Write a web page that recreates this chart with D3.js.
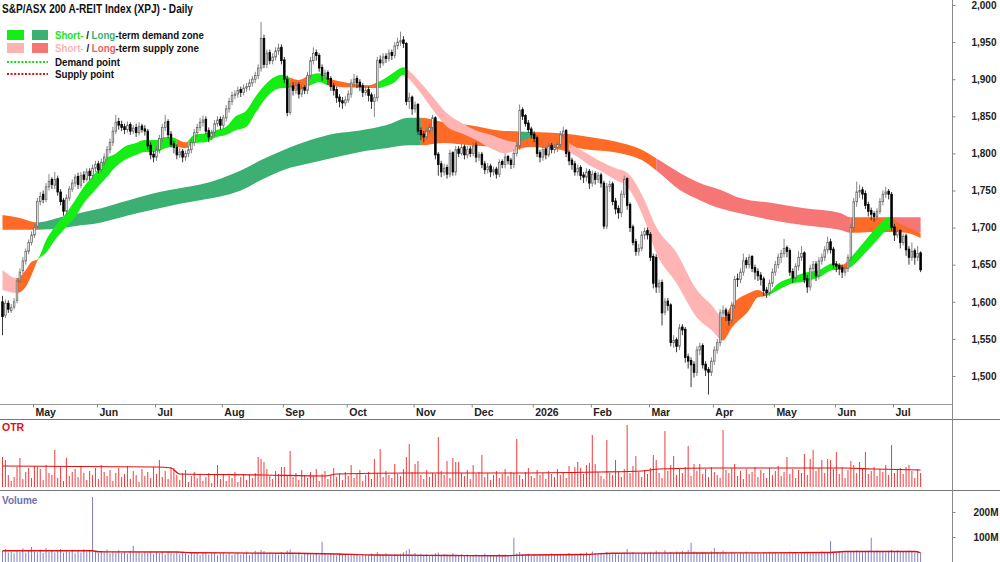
<!DOCTYPE html>
<html><head><meta charset="utf-8">
<script src="https://cdn.jsdelivr.net/npm/d3@7"></script>
<style>
body{margin:0;background:#fff}
svg{display:block}
text{font-family:"Liberation Sans",Arial,sans-serif}
</style></head>
<body><svg id="c" width="1000" height="562"></svg>
<script>
// ---------- DATA ----------
const monthLabels = ["May","Jun","Jul","Aug","Sep","Oct","Nov","Dec","2026","Feb","Mar","Apr","May","Jun","Jul"];
const monthStartIdx = [11,33,53,76,97,119,142,162,183,203,223,245,266,287,307];
const priceTicks = [1500,1550,1600,1650,1700,1750,1800,1850,1900,1950,2000];
const volTicks = [100,200];

const close = [
1580,1598,1590,1592,1600,1628,1640,1655,1668,1680,
1690,1700,1735,1742,1738,1755,1762,1758,1765,1748,
1735,1722,1740,1752,1760,1768,1758,1770,1765,1775,
1770,1780,1785,1778,1788,1795,1805,1815,1830,1842,
1838,1835,1832,1838,1830,1834,1828,1836,1832,1830,
1810,1798,1795,1805,1820,1835,1842,1825,1812,1808,
1798,1802,1795,1800,1805,1815,1828,1835,1842,1845,
1830,1822,1828,1840,1845,1838,1848,1860,1870,1878,
1880,1885,1882,1888,1890,1895,1900,1905,1915,1955,
1920,1935,1925,1930,1938,1942,1925,1900,1855,1890,
1885,1892,1880,1888,1885,1905,1925,1935,1932,1915,
1905,1908,1900,1890,1885,1875,1870,1868,1872,1880,
1895,1900,1895,1890,1882,1885,1878,1870,1875,1925,
1922,1930,1928,1935,1932,1945,1950,1952,1948,1870,
1875,1860,1865,1830,1825,1822,1830,1835,1848,1798,
1785,1775,1780,1772,1800,1775,1805,1800,1808,1798,
1805,1800,1810,1795,1798,1785,1778,1782,1775,1778,
1772,1788,1785,1795,1790,1785,1800,1810,1858,1850,
1840,1832,1825,1820,1800,1795,1805,1798,1810,1805,
1808,1812,1825,1830,1800,1790,1785,1775,1780,1770,
1768,1775,1760,1772,1765,1770,1760,1702,1755,1758,
1735,1725,1720,1745,1765,1730,1700,1680,1668,1672,
1690,1695,1690,1660,1625,1620,1625,1585,1600,1595,
1545,1548,1540,1565,1562,1525,1520,1515,1505,1535,
1540,1515,1508,1505,1520,1535,1545,1585,1588,1582,
1575,1595,1630,1630,1640,1655,1650,1660,1645,1640,
1635,1630,1615,1612,1625,1640,1650,1660,1665,1672,
1668,1640,1632,1648,1660,1665,1630,1620,1645,1650,
1635,1655,1660,1670,1680,1670,1650,1648,1645,1640,
1645,1660,1700,1735,1748,1750,1745,1730,1722,1718,
1715,1722,1735,1745,1748,1745,1700,1690,1695,1680,
1688,1670,1660,1668,1660,1665,1643];

const open = [
1600,1582,1598,1588,1593,1602,1628,1642,1655,1668,
1680,1690,1702,1735,1745,1738,1755,1765,1757,1766,
1748,1737,1722,1740,1752,1760,1769,1757,1771,1765,
1776,1770,1780,1786,1778,1788,1795,1805,1815,1830,
1843,1839,1836,1832,1839,1830,1835,1828,1837,1833,
1830,1811,1799,1795,1805,1820,1835,1843,1826,1813,
1808,1798,1803,1795,1800,1805,1815,1828,1835,1842,
1846,1831,1822,1828,1840,1846,1838,1848,1860,1870,
1878,1880,1886,1882,1888,1890,1895,1900,1905,1915,
1955,1920,1936,1925,1930,1938,1943,1926,1900,1855,
1891,1885,1893,1880,1889,1885,1905,1925,1936,1932,
1916,1905,1909,1901,1891,1886,1876,1871,1868,1872,
1880,1895,1901,1896,1891,1882,1886,1879,1870,1875,
1926,1922,1931,1928,1936,1932,1945,1950,1953,1948,
1870,1876,1860,1866,1831,1826,1822,1830,1835,1848,
1799,1786,1775,1781,1772,1801,1775,1806,1800,1809,
1798,1806,1800,1811,1795,1799,1786,1778,1783,1775,
1779,1772,1789,1785,1796,1791,1785,1800,1810,1859,
1851,1841,1833,1826,1821,1801,1795,1806,1798,1811,
1805,1808,1812,1825,1831,1801,1791,1786,1775,1781,
1771,1768,1776,1760,1773,1765,1771,1760,1702,1755,
1759,1736,1726,1720,1745,1766,1731,1701,1681,1668,
1672,1690,1696,1691,1661,1660,1620,1626,1586,1601,
1596,1545,1549,1540,1566,1563,1526,1521,1516,1505,
1535,1541,1516,1509,1505,1520,1535,1545,1585,1589,
1583,1575,1595,1631,1630,1640,1656,1650,1661,1646,
1641,1636,1631,1616,1612,1625,1640,1650,1660,1665,
1673,1669,1641,1632,1648,1660,1666,1631,1620,1645,
1651,1635,1655,1660,1670,1681,1671,1651,1649,1646,
1640,1645,1660,1700,1735,1748,1751,1746,1731,1723,
1719,1715,1722,1735,1745,1749,1745,1701,1690,1696,
1680,1689,1671,1660,1669,1660,1666];

const high = [
1608,1603,1602,1597,1605,1632,1645,1660,1672,1684,
1695,1705,1740,1748,1750,1760,1772,1768,1775,1770,
1752,1740,1745,1756,1765,1772,1774,1775,1776,1780,
1780,1785,1790,1790,1793,1800,1810,1820,1836,1852,
1848,1844,1840,1843,1842,1838,1840,1842,1840,1838,
1833,1815,1803,1810,1825,1840,1852,1846,1830,1817,
1812,1807,1806,1804,1810,1820,1833,1840,1848,1851,
1850,1835,1832,1845,1850,1850,1852,1865,1875,1883,
1885,1890,1890,1893,1895,1900,1904,1910,1920,1977,
1960,1940,1940,1935,1943,1948,1947,1930,1905,1895,
1896,1897,1896,1893,1892,1910,1930,1943,1940,1935,
1920,1913,1912,1904,1895,1890,1880,1876,1877,1885,
1900,1907,1905,1900,1895,1890,1890,1882,1880,1930,
1932,1935,1935,1940,1940,1950,1956,1964,1958,1950,
1882,1878,1870,1868,1835,1830,1835,1840,1852,1850,
1802,1790,1786,1785,1805,1803,1810,1810,1813,1812,
1810,1810,1815,1815,1802,1802,1790,1787,1786,1782,
1782,1792,1792,1800,1798,1794,1805,1815,1866,1862,
1853,1845,1836,1830,1824,1805,1810,1808,1815,1814,
1812,1816,1830,1836,1833,1804,1794,1790,1785,1784,
1775,1780,1779,1777,1776,1775,1774,1763,1760,1763,
1762,1740,1730,1750,1770,1768,1734,1704,1685,1678,
1695,1700,1700,1694,1665,1664,1630,1630,1605,1605,
1598,1555,1552,1570,1570,1566,1530,1525,1520,1540,
1545,1544,1520,1512,1525,1540,1550,1590,1595,1592,
1586,1600,1635,1638,1645,1665,1660,1664,1663,1650,
1645,1640,1634,1620,1630,1645,1655,1665,1670,1685,
1676,1672,1645,1652,1668,1675,1668,1636,1650,1655,
1655,1660,1665,1675,1688,1685,1674,1655,1652,1650,
1648,1664,1705,1740,1762,1758,1755,1750,1735,1727,
1722,1726,1740,1750,1755,1752,1748,1705,1700,1698,
1692,1692,1675,1680,1672,1675,1668];

const low = [
1555,1578,1585,1585,1590,1598,1625,1638,1650,1664,
1676,1686,1698,1730,1733,1734,1750,1752,1752,1743,
1730,1716,1718,1736,1748,1755,1752,1753,1760,1762,
1764,1766,1775,1773,1774,1783,1790,1800,1810,1826,
1832,1830,1826,1828,1825,1826,1822,1824,1828,1824,
1805,1792,1788,1790,1800,1815,1830,1820,1808,1800,
1792,1794,1788,1790,1795,1800,1810,1822,1830,1836,
1826,1815,1818,1823,1836,1832,1833,1843,1855,1865,
1873,1875,1876,1878,1883,1885,1890,1895,1900,1910,
1915,1915,1920,1920,1925,1933,1920,1895,1850,1852,
1878,1880,1874,1876,1880,1880,1900,1920,1925,1910,
1898,1900,1892,1884,1878,1868,1862,1860,1864,1868,
1875,1890,1888,1884,1876,1878,1870,1860,1849,1870,
1915,1918,1922,1924,1926,1928,1940,1945,1942,1865,
1860,1852,1855,1825,1818,1815,1818,1826,1830,1792,
1770,1768,1770,1766,1768,1770,1770,1795,1797,1792,
1793,1795,1796,1788,1790,1780,1772,1773,1768,1770,
1766,1768,1780,1780,1785,1779,1780,1796,1805,1845,
1836,1828,1820,1815,1795,1788,1790,1792,1795,1800,
1800,1802,1808,1820,1795,1784,1778,1770,1770,1764,
1760,1762,1752,1755,1758,1760,1754,1698,1698,1748,
1730,1718,1712,1714,1740,1724,1694,1676,1662,1662,
1668,1684,1684,1655,1618,1612,1612,1568,1582,1588,
1540,1538,1532,1535,1555,1518,1510,1485,1498,1500,
1528,1510,1500,1475,1500,1515,1530,1540,1578,1574,
1568,1570,1590,1620,1625,1635,1645,1645,1640,1630,
1628,1622,1608,1605,1608,1620,1635,1645,1652,1660,
1660,1635,1625,1628,1642,1655,1625,1612,1615,1640,
1628,1630,1650,1655,1665,1665,1645,1640,1636,1632,
1635,1640,1655,1695,1728,1740,1738,1725,1715,1710,
1708,1710,1718,1730,1740,1738,1695,1682,1686,1672,
1676,1662,1650,1655,1650,1655,1640];

const otr = [
30,27,12,6,10,20,29,8,15,19, 9,21,20,18,7,22,14,12,37,9,
20,6,29,11,15,18,10,21,14,7, 16,12,19,8,22,15,11,17,6,14,
19,10,13,21,8,16,12,5,18,11, 15,9,20,13,27,10,16,8,20,19,
12,7,14,17,5,11,15,9,13,6, 10,14,4,12,22,8,13,6,11,9,
15,5,10,13,7,12,9,14,30,28, 25,18,11,8,16,13,20,20,12,36,
10,14,7,17,12,9,15,11,18,6, 13,16,8,12,19,10,14,7,15,11,
22,9,13,17,6,12,15,8,28,14, 38,10,16,12,9,23,13,11,18,30,
43,15,23,26,12,8,17,10,14,13, 50,16,12,26,9,29,25,25,14,11,
17,8,22,13,15,32,10,14,7,12, 16,9,13,18,11,15,14,48,12,8,
15,19,11,9,17,12,14,8,16,13, 10,18,12,15,9,21,14,20,25,19,
13,22,24,52,23,15,11,8,47,14, 12,27,16,10,18,62,14,21,31,15,
10,17,13,19,32,27,14,9,56,16, 22,31,12,18,14,20,41,11,23,16,
23,13,18,10,20,15,12,9,57,17, 14,19,23,11,16,8,18,13,15,20,
10,17,14,9,19,12,16,21,11,15, 30,13,18,9,17,14,33,12,28,37,
16,19,27,14,28,27,18,35,13,20, 9,17,26,22,14,25,19,35,13,16,
20,11,18,15,22,12,42,14,17,19, 13,20,22,16,9,18,14];
const otrAvgIdx = [0,53,58,61,90,111,115,140,175,205,220,226,245,290,300,316];
const otrAvg    = [21,20,19,13,12,11,13,14,14,15,16,18,19,19,18,17];

const volume = [
45,52,38,41,35,48,40,55,37,44, 60,42,39,50,36,56,41,47,38,43,
52,37,45,40,49,35,44,38,51,42, 46,260,40,36,44,39,50,35,42,38,
47,36,41,33,45,64,38,42,35,40, 37,44,32,39,35,41,30,43,36,34,
38,31,42,35,29,40,33,37,28,36, 41,30,35,39,27,34,38,31,36,29,
33,37,30,35,42,28,36,45,39,48, 44,35,38,31,36,29,40,34,46,50,
35,30,38,27,33,36,31,29,35,28, 81,32,28,34,30,26,35,29,31,27,
33,28,30,25,32,29,27,34,26,40, 31,28,35,30,26,32,29,33,38,45,
52,30,36,28,33,27,31,26,29,35, 38,28,32,30,25,34,29,27,31,26,
30,27,24,31,28,26,33,25,29,27, 28,32,26,30,27,29,97,35,40,31,
28,33,26,30,25,29,27,32,28,34, 30,27,33,29,31,36,28,32,30,35,
33,38,30,42,35,31,37,29,40,33, 31,36,30,34,38,52,35,40,33,37,
32,39,35,41,36,45,38,33,47,36, 40,35,42,37,44,38,48,77,42,39,
36,41,38,35,43,56,40,37,46,38, 35,41,37,33,39,36,42,34,38,40,
37,33,39,35,41,36,38,34,40,37, 35,42,38,36,33,39,37,41,35,38,
40,36,42,38,39,84,41,37,43,39, 38,44,40,42,46,41,39,43,45,97,
42,46,40,44,38,45,48,41,47,43, 44,40,46,42,38,44,36];
const volAvgIdx = [0,31,33,60,65,100,115,127,155,172,180,200,210,240,285,290,314,316];
const volAvg    = [45,45,41,40,37,35,32,28,26,25,28,30,35,36,38,42,42,37];

// short-term zone edges (sampled by candle index)
const stIdx = [0,5,8,10,12,15,18,22,25,28, 32,35,39,42,46,49,53,56,59,63,
  66,70,73,77,80,84,87,91,96,99, 102,106,109,112,119,126,129,132,135,138,
  140,144,149,153,158,163,168,173,177,182, 187,192,198,202,207,211,215,221,225,232,
  239,244,248,251,257,260,263,267,272,276, 281,286,289,292,297,301,305,307,311,316];
const stHi = [1643,1632,1643,1654,1657,1683,1701,1720,1737,1755, 1774,1791,1800,1809,1814,1818,1818,1822,1821,1815,
  1825,1827,1831,1836,1849,1858,1876,1895,1906,1902, 1899,1906,1908,1902,1895,1892,1896,1902,1910,1916,
  1911,1895,1872,1854,1841,1831,1825,1818,1815,1821, 1818,1818,1807,1798,1787,1780,1774,1737,1701,1666,
  1616,1596,1579,1596,1612,1616,1611,1625,1633,1639, 1643,1652,1650,1660,1683,1701,1714,1710,1701,1693];
const stLo = [1616,1612,1620,1636,1655,1666,1683,1701,1714,1733, 1751,1764,1782,1791,1798,1802,1802,1807,1809,1807,
  1814,1815,1821,1825,1831,1836,1854,1876,1888,1888, 1885,1892,1896,1892,1889,1888,1888,1891,1896,1906,
  1900,1881,1854,1836,1827,1818,1807,1800,1805,1809, 1807,1805,1795,1784,1774,1764,1755,1710,1666,1625,
  1579,1562,1548,1565,1589,1606,1608,1616,1625,1627, 1633,1643,1643,1647,1666,1683,1697,1694,1693,1686];
// long-term zone edges
const ltIdx = [0,6,12,20,27,34,40,47,54,61, 68,75,82,89,97,106,115,123,132,140,
  144,152,161,171,182,192,202,213,220,226, 233,240,247,253,265,276,288,292,302,316];
const ltHi = [1717,1713,1707,1714,1720,1726,1733,1741,1748,1753, 1758,1766,1777,1791,1805,1818,1827,1831,1838,1848,
  1848,1842,1838,1831,1829,1827,1822,1814,1805,1791, 1774,1760,1751,1741,1733,1726,1720,1714,1714,1714];
const ltLo = [1697,1697,1697,1699,1703,1707,1713,1720,1726,1732, 1737,1742,1750,1764,1778,1787,1795,1802,1807,1811,
  1811,1814,1811,1809,1809,1809,1805,1800,1791,1774, 1751,1737,1726,1720,1710,1703,1697,1693,1694,1694];
// zone state segments: [fromIdx, toIdx, state]
const stZones = [[0,5,"ss"],[5,12,"or"],[12,60,"sd"],[60,64,"or"],[64,99,"sd"],[99,105,"or"],[105,112,"sd"],
  [112,129,"or"],[129,139,"sd"],[139,177,"ss"],[177,195,"or"],[195,247,"ss"],[247,263,"or"],[263,288,"sd"],
  [288,291,"or"],[291,306,"sd"],[306,316,"or"]];
const ltZones = [[0,12,"or"],[12,144,"ld"],[144,178,"or"],[178,183,"ld"],[183,225,"or"],[225,292,"ls"],
  [292,306,"or"],[306,316,"ls"]];

// ---------- DRAW ----------
const zoneColor = {sd:"#14EE14", ld:"#3CAF72", ss:"#FFB4B4", ls:"#F67676", or:"#FF6A26"};
const svg = d3.select("#c");
const defs = svg.append("defs");
const x = d3.scaleLinear().domain([10.5, 306.5]).range([33, 893]);
const y = d3.scaleLinear().domain([1500, 2000]).range([376, 5]);
const yOtr = d3.scaleLinear().domain([0, 70]).range([487, 417]);
const yVol = d3.scaleLinear().domain([0, 200]).range([562, 512]);
const N = close.length;
const idx = d3.range(N);

defs.append("clipPath").attr("id","mainClip").append("rect").attr("x",0).attr("y",0).attr("width",952).attr("height",404);
const main = svg.append("g").attr("clip-path","url(#mainClip)");

function drawBand(ix, hi, lo, zones, tag){
  const pts = ix.map((d,k)=>({i:d, hi:hi[k], lo:lo[k]}));
  const area = d3.area().x(d=>x(d.i)).y0(d=>y(d.lo)).y1(d=>y(d.hi)).curve(d3.curveMonotoneX);
  const dstr = area(pts);
  zones.forEach(([a,b,s],n)=>{
    const id = tag+"z"+n;
    const x0 = a===0 ? 0 : x(a), x1 = b===N-1 ? x(N) : x(b);
    defs.append("clipPath").attr("id",id).append("rect")
      .attr("x",x0).attr("y",0).attr("width",x1-x0).attr("height",404);
    main.append("path").attr("d",dstr).attr("fill",zoneColor[s]).attr("clip-path",`url(#${id})`);
  });
}
drawBand(ltIdx, ltHi, ltLo, ltZones, "lt");
drawBand(stIdx, stHi, stLo, stZones, "st");

// candles
const bw = 1.6;
main.append("g").selectAll("line").data(idx).join("line")
  .attr("x1",i=>x(i)).attr("x2",i=>x(i))
  .attr("y1",i=>y(high[i])).attr("y2",i=>y(low[i]))
  .attr("stroke",i=>close[i]>=open[i]?"#777":"#222").attr("stroke-width",0.9);
main.append("g").selectAll("rect").data(idx).join("rect")
  .attr("x",i=>x(i)-bw/2).attr("width",bw)
  .attr("y",i=>y(Math.max(open[i],close[i])))
  .attr("height",i=>Math.max(0.6,Math.abs(y(open[i])-y(close[i]))))
  .attr("fill",i=>close[i]>=open[i]?"#fff":"#000")
  .attr("stroke",i=>close[i]>=open[i]?"#666":"#000").attr("stroke-width",0.8);

// frame lines
const grid = "#9a9a9a";
svg.append("line").attr("x1",0).attr("x2",952).attr("y1",404.5).attr("y2",404.5).attr("stroke",grid);
svg.append("line").attr("x1",0).attr("x2",1000).attr("y1",419.5).attr("y2",419.5).attr("stroke","#777");
svg.append("line").attr("x1",0).attr("x2",1000).attr("y1",490.5).attr("y2",490.5).attr("stroke","#777");
svg.append("line").attr("x1",952.5).attr("x2",952.5).attr("y1",0).attr("y2",562).attr("stroke","#888");

// price axis
const pAx = svg.append("g").attr("transform","translate(952.5,0)")
  .call(d3.axisRight(y).tickValues(priceTicks).tickSize(3).tickFormat(d3.format(",")));
pAx.select(".domain").remove();
pAx.selectAll(".tick line").attr("stroke","#888");
pAx.selectAll(".tick text").attr("x",44).attr("text-anchor","end")
  .style("font-size","10px").style("font-weight","bold").attr("fill","#222");

// date axis
const dAx = svg.append("g").attr("transform","translate(0,404.5)")
  .call(d3.axisBottom(x).tickValues(monthStartIdx.map(i=>i-0.5)).tickSize(3).tickFormat((d,k)=>monthLabels[k]));
dAx.select(".domain").remove();
dAx.selectAll(".tick line").attr("stroke","#888");
dAx.selectAll(".tick text").attr("x",2).attr("y",11).attr("dy",0).attr("text-anchor","start")
  .style("font-size","10.5px").style("font-weight","bold").attr("fill","#222");

// OTR panel
svg.append("g").selectAll("line").data(idx).join("line")
  .attr("x1",i=>x(i)).attr("x2",i=>x(i)).attr("y1",yOtr(0)).attr("y2",i=>yOtr(otr[i]))
  .attr("stroke","#F23A3A").attr("stroke-width",1);
svg.append("path").datum(otrAvgIdx.map((d,k)=>[d,otrAvg[k]]))
  .attr("d",d3.line().x(d=>x(d[0])).y(d=>yOtr(d[1])).curve(d3.curveMonotoneX))
  .attr("fill","none").attr("stroke","#E01010").attr("stroke-width",1.2);
svg.append("text").attr("x",2).attr("y",431).text("OTR")
  .style("font-size","10.5px").style("font-weight","bold").attr("fill","#E01010");

// Volume panel
svg.append("g").selectAll("line").data(idx).join("line")
  .attr("x1",i=>x(i)).attr("x2",i=>x(i)).attr("y1",yVol(0)).attr("y2",i=>yVol(volume[i]))
  .attr("stroke","#7F80C4").attr("stroke-width",1);
svg.append("path").datum(volAvgIdx.map((d,k)=>[d,volAvg[k]]))
  .attr("d",d3.line().x(d=>x(d[0])).y(d=>yVol(d[1])).curve(d3.curveMonotoneX))
  .attr("fill","none").attr("stroke","#E01010").attr("stroke-width",1.3);
svg.append("text").attr("x",2).attr("y",504).text("Volume")
  .style("font-size","10px").style("font-weight","bold").attr("fill","#6E70B0");
const vAx = svg.append("g").attr("transform","translate(952.5,0)")
  .call(d3.axisRight(yVol).tickValues(volTicks).tickSize(3).tickFormat(d=>d+"M"));
vAx.select(".domain").remove();
vAx.selectAll(".tick line").attr("stroke","#888");
vAx.selectAll(".tick text").attr("x",46).attr("text-anchor","end")
  .style("font-size","10px").style("font-weight","bold").attr("fill","#222");

// title
svg.append("text").attr("x",2).attr("y",13).text("S&P/ASX 200 A-REIT Index (XPJ) - Daily")
  .attr("textLength",191).attr("lengthAdjust","spacingAndGlyphs")
  .style("font-size","12.5px").style("font-weight","bold").attr("fill","#111");

// legend
const lg = svg.append("g");
lg.append("rect").attr("x",7).attr("y",30).attr("width",17).attr("height",10).attr("fill",zoneColor.sd);
lg.append("rect").attr("x",32).attr("y",30).attr("width",16).attr("height",10).attr("fill",zoneColor.ld);
lg.append("rect").attr("x",7).attr("y",43).attr("width",17).attr("height",10).attr("fill",zoneColor.ss);
lg.append("rect").attr("x",32).attr("y",43).attr("width",16).attr("height",10).attr("fill",zoneColor.ls);
lg.append("line").attr("x1",7).attr("x2",48).attr("y1",62).attr("y2",62)
  .attr("stroke","#18D818").attr("stroke-width",2).attr("stroke-dasharray","2,1.6");
lg.append("line").attr("x1",7).attr("x2",48).attr("y1",74).attr("y2",74)
  .attr("stroke","#D81818").attr("stroke-width",2).attr("stroke-dasharray","2,1.6");
function legText(yy, parts, target){
  const fs = 11.5;
  const g = lg.append("g");
  const nodes = parts.map(([s,c]) => g.append("text").attr("y",0).text(s).attr("fill",c)
    .style("font-size",fs+"px").style("font-weight","bold"));
  let xx = 0;
  nodes.forEach(n => { n.attr("x", xx); xx += n.node().getComputedTextLength(); });
  const sx = Math.min(1, target / xx);
  g.attr("transform", `translate(55,${yy}) scale(${sx},1)`);
}
const nb = "\u00A0";
legText(39, [["Short-","#19E619"],[nb+"/"+nb,"#111"],["Long","#3CAF72"],["-term demand zone","#111"]], 149);
legText(52, [["Short-","#FFB4B4"],[nb+"/"+nb,"#111"],["Long","#F25D5D"],["-term supply zone","#111"]], 144);
legText(66, [["Demand point","#111"]], 65);
legText(78, [["Supply point","#111"]], 59);
</script>
</body></html>
